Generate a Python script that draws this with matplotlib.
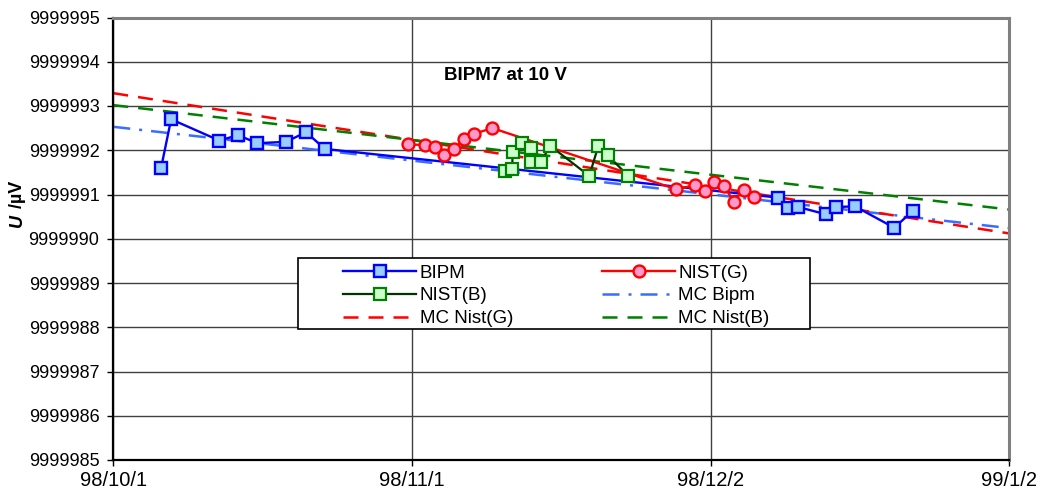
import matplotlib
matplotlib.use("Agg")
import matplotlib.pyplot as plt
from matplotlib.patches import Rectangle

plt.rcParams['font.family'] = ['Liberation Sans', 'DejaVu Sans']

# ---- data (x = days after 98/10/1) ----
bipm_day = [4.95, 6.0, 11.0, 12.95, 14.95, 17.95, 20.0, 21.95,
            69.0, 70.0, 71.05, 74.0, 75.05, 77.0, 81.05, 83.0]
bipm_val = [9999991.59, 9999992.70, 9999992.22, 9999992.34, 9999992.16, 9999992.19,
            9999992.41, 9999992.03, 9999990.93, 9999990.70, 9999990.72, 9999990.55,
            9999990.72, 9999990.73, 9999990.25, 9999990.63]

nistg_day = [30.6, 32.4, 33.4, 34.35, 35.4, 36.35, 37.4, 39.35,
             58.4, 60.4, 61.4, 62.4, 63.4, 64.4, 65.45, 66.45]
nistg_val = [9999992.13, 9999992.12, 9999992.07, 9999991.89, 9999992.03, 9999992.25,
             9999992.37, 9999992.50, 9999991.12, 9999991.21, 9999991.07, 9999991.28,
             9999991.19, 9999990.84, 9999991.11, 9999990.94]

nistb_day = [40.7, 41.4, 41.45, 42.45, 43.35, 43.4, 44.35, 45.35,
             49.4, 50.35, 51.3, 53.45]
nistb_val = [9999991.54, 9999991.57, 9999991.97, 9999992.16, 9999992.04, 9999991.73,
             9999991.73, 9999992.10, 9999991.42, 9999992.10, 9999991.89, 9999991.42]

mc_day = [0, 93]
mc_bipm = [9999992.53, 9999990.24]
mc_nistg = [9999993.29, 9999990.12]
mc_nistb = [9999993.02, 9999990.66]

x_ticks = [0, 31, 62, 93]
x_labels = ['98/10/1', '98/11/1', '98/12/2', '99/1/2']
y_ticks = [9999985, 9999986, 9999987, 9999988, 9999989, 9999990,
           9999991, 9999992, 9999993, 9999994, 9999995]
y_labels = [str(v) for v in y_ticks]

W, H = 1041, 503
fig = plt.figure(figsize=(W / 100, H / 100), dpi=100)
L, R, T, B = 113.3, 1009.3, 17.5, 460
ax = fig.add_axes([L / W, 1 - B / H, (R - L) / W, (B - T) / H])

# trend lines
ax.plot(mc_day, mc_bipm, color='#3a6cff', lw=1.8,
        linestyle=(0, (6.8, 3.6, 1.2, 3.6)), label='MC Bipm', zorder=2)
ax.plot(mc_day, mc_nistg, color='#ff0000', lw=1.8,
        linestyle=(0, (6.0, 4.0)), label='MC Nist(G)', zorder=2)
ax.plot(mc_day, mc_nistb, color='#008000', lw=1.8,
        linestyle=(0, (6.0, 4.0)), label='MC Nist(B)', zorder=2)

# data series
ax.plot(bipm_day, bipm_val, color='#0000ff', lw=1.7, marker='s', ms=8.2,
        mfc='#99ccff', mec='#0000ff', mew=1.7, label='BIPM', zorder=3)
ax.plot(nistg_day, nistg_val, color='#ff0000', lw=1.7, marker='o', ms=8.6,
        mfc='#ff99cc', mec='#ff0000', mew=1.7, label='NIST(G)', zorder=3)
ax.plot(nistb_day, nistb_val, color='#003300', lw=1.6, marker='s', ms=8.4,
        mfc='#ccffcc', mec='#008000', mew=1.6, label='NIST(B)', zorder=3)

ax.set_xlim(0, 93)
ax.set_ylim(9999985, 9999995)
ax.set_xticks(x_ticks)
ax.set_xticklabels(x_labels)
ax.set_yticks(y_ticks)
ax.set_yticklabels(y_labels)
ax.tick_params(axis='both', direction='out', length=4, width=1, colors='black')
ax.tick_params(axis='y', pad=6, labelsize=13)
ax.tick_params(axis='x', pad=4, labelsize=14.5)
ax.grid(True, color='#404040', lw=1)
ax.set_axisbelow(True)

for s in ['top', 'right']:
    ax.spines[s].set_color('#808080')
    ax.spines[s].set_linewidth(2.2)
for s in ['left', 'bottom']:
    ax.spines[s].set_color('black')
    ax.spines[s].set_linewidth(1.6)

ax.text(0.438, 0.870, 'BIPM7 at 10 V', transform=ax.transAxes,
        ha='center', va='center', fontsize=13.5, fontweight='bold')

# y label: italic bold U + bold " /µV"
fig.text(17 / W, 1 - 227 / H, 'U', rotation=90, ha='center', va='bottom',
         fontsize=13, fontweight='bold', fontstyle='italic')
fig.text(17 / W, 1 - 213 / H, ' /µV', rotation=90, ha='center', va='bottom',
         fontsize=13, fontweight='bold')

# legend frame
rect = Rectangle((298 / W, 1 - 329 / H), 512 / W, 71 / H, transform=fig.transFigure,
                 facecolor='white', edgecolor='black', lw=1.2, zorder=4.9, clip_on=False)
ax.add_patch(rect)

h, l = ax.get_legend_handles_labels()
order = ['BIPM', 'NIST(B)', 'MC Nist(G)', 'NIST(G)', 'MC Bipm', 'MC Nist(B)']
hh = [h[l.index(n)] for n in order]
leg = ax.legend(hh, order, ncol=2, loc='upper left',
                bbox_to_anchor=(343 / W, 1 - 264.5 / H), bbox_transform=fig.transFigure,
                frameon=False, borderpad=0, borderaxespad=0, fontsize=13.5,
                handlelength=3.9, handletextpad=0.18, columnspacing=4.75,
                labelspacing=0.3)
leg.set_zorder(5)

fig.savefig('out.png', dpi=100)
